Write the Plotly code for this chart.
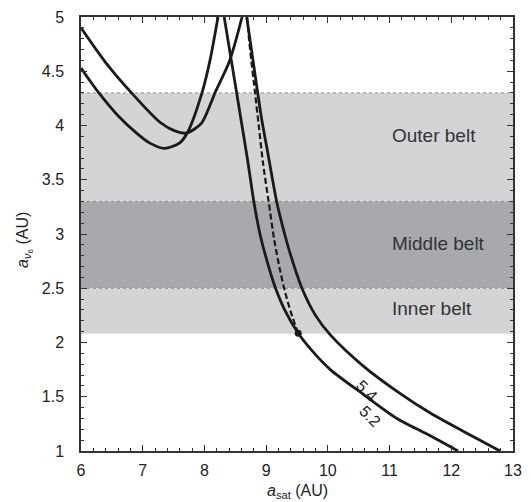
import plotly.graph_objects as go

# Curve data (a_sat, a_nu6)
j52_left_x = [6.00, 6.29, 6.60, 6.90, 7.11, 7.35, 7.60, 7.73, 7.96, 8.09, 8.22]
j52_left_y = [4.53, 4.30, 4.09, 3.93, 3.84, 3.79, 3.84, 3.94, 4.30, 4.60, 5.00]

j54_left_x = [6.00, 6.40, 6.82, 7.28, 7.52, 7.71, 7.95, 8.10, 8.17, 8.41, 8.61]
j54_left_y = [4.90, 4.58, 4.30, 4.03, 3.95, 3.93, 4.02, 4.20, 4.30, 4.60, 5.00]

j52_right_x = [8.32, 8.45, 8.58, 8.70, 8.80, 8.90, 9.00, 9.14, 9.30, 9.52, 9.75, 10.04, 10.58, 11.12, 11.66, 12.11]
j52_right_y = [5.00, 4.55, 4.10, 3.68, 3.30, 3.00, 2.78, 2.52, 2.30, 2.085, 1.92, 1.75, 1.52, 1.30, 1.14, 1.00]

j54_right_x = [8.685, 8.80, 8.93, 9.02, 9.17, 9.30, 9.40, 9.58, 9.80, 10.04, 10.58, 11.12, 11.66, 12.20, 12.79]
j54_right_y = [5.00, 4.55, 4.05, 3.77, 3.30, 3.00, 2.80, 2.50, 2.25, 2.07, 1.78, 1.55, 1.35, 1.18, 1.00]

path_x = [8.69, 8.74, 8.82, 8.88, 8.95, 9.04, 9.13, 9.22, 9.30, 9.40, 9.52]
path_y = [5.00, 4.70, 4.30, 4.00, 3.65, 3.30, 2.95, 2.68, 2.48, 2.28, 2.085]

dot_x = [9.52]
dot_y = [2.085]

belt_names = ["Outer belt", "Middle belt", "Inner belt"]
belt_lo = [3.3, 2.5, 2.08]
belt_hi = [4.3, 3.3, 2.5]
belt_colors = ["#d3d4d6", "#a8a9ac", "#d3d4d6"]
belt_label_y = [3.91, 2.91, 2.31]

curve_labels = ["5.4", "5.2"]
curve_label_x = [10.63, 10.69]
curve_label_y = [1.56, 1.32]

LINE = "#1a1a1a"
FONT = "Liberation Sans, Arial"

fig = go.Figure()

shapes = []
for lo, hi, c in zip(belt_lo, belt_hi, belt_colors):
    shapes.append(dict(type="rect", xref="x", yref="y", x0=6, x1=13, y0=lo, y1=hi,
                       fillcolor=c, line=dict(width=0), layer="below"))
for yv in [4.3, 3.3, 2.5]:
    shapes.append(dict(type="line", xref="x", yref="y", x0=6, x1=13, y0=yv, y1=yv,
                       line=dict(color="#8a8a8a", width=1, dash="dot"), layer="below"))

for xs, ys in [(j52_left_x, j52_left_y), (j54_left_x, j54_left_y),
               (j52_right_x, j52_right_y), (j54_right_x, j54_right_y)]:
    fig.add_trace(go.Scatter(x=xs, y=ys, mode="lines",
                             line=dict(color=LINE, width=2.8, shape="spline", smoothing=0.8),
                             showlegend=False, hoverinfo="skip"))

fig.add_trace(go.Scatter(x=path_x, y=path_y, mode="lines",
                         line=dict(color=LINE, width=2.2, dash="6px,3px", shape="spline", smoothing=0.8),
                         showlegend=False, hoverinfo="skip"))
fig.add_trace(go.Scatter(x=dot_x, y=dot_y, mode="markers",
                         marker=dict(color=LINE, size=7), showlegend=False, hoverinfo="skip"))

annotations = []
for name, yv in zip(belt_names, belt_label_y):
    annotations.append(dict(x=11.01, y=yv, xref="x", yref="y", text=name, showarrow=False,
                            xanchor="left", yanchor="middle",
                            font=dict(size=19, color="#333333", family=FONT)))
for t, xv, yv in zip(curve_labels, curve_label_x, curve_label_y):
    annotations.append(dict(x=xv, y=yv, xref="x", yref="y", text=t, showarrow=False,
                            textangle=45, xanchor="center", yanchor="middle",
                            font=dict(size=16, color="#222222", family=FONT)))
# axis titles
annotations.append(dict(x=0.5, y=-0.094, xref="paper", yref="paper", showarrow=False,
                        text="<i>a</i><sub>sat</sub> (AU)", xanchor="center", yanchor="middle",
                        font=dict(size=16, color="#222222", family=FONT)))
annotations.append(dict(x=-0.13, y=0.486, xref="paper", yref="paper", showarrow=False,
                        text="<i>a</i><sub><i>ν</i><sub>6</sub></sub> (AU)", textangle=-90,
                        xanchor="center", yanchor="middle",
                        font=dict(size=16, color="#222222", family=FONT)))

axis_common = dict(showgrid=False, zeroline=False, showline=True, linecolor="#333333", linewidth=1.5,
                   mirror="ticks", ticks="inside", ticklen=6, tickwidth=1.2, tickcolor="#333333",
                   automargin=False,
                   tickfont=dict(size=16, color="#222222", family=FONT))

# page body has an 8px margin, so the figure is sized/offset to compensate
fig.update_layout(
    width=523, height=494,
    margin=dict(l=73, r=18, t=9, b=51),
    plot_bgcolor="white", paper_bgcolor="white",
    shapes=shapes, annotations=annotations,
    xaxis=dict(range=[6, 13], dtick=1, tick0=6,
               minor=dict(dtick=0.2, ticks="inside", ticklen=3, tickcolor="#333333"),
               ticklabelstandoff=4,
               **axis_common),
    yaxis=dict(range=[1, 5], dtick=0.5, tick0=1,
               minor=dict(dtick=0.1, ticks="inside", ticklen=3, tickcolor="#333333"),
               ticklabelstandoff=12,
               **axis_common),
)

fig.write_html("out.html")
